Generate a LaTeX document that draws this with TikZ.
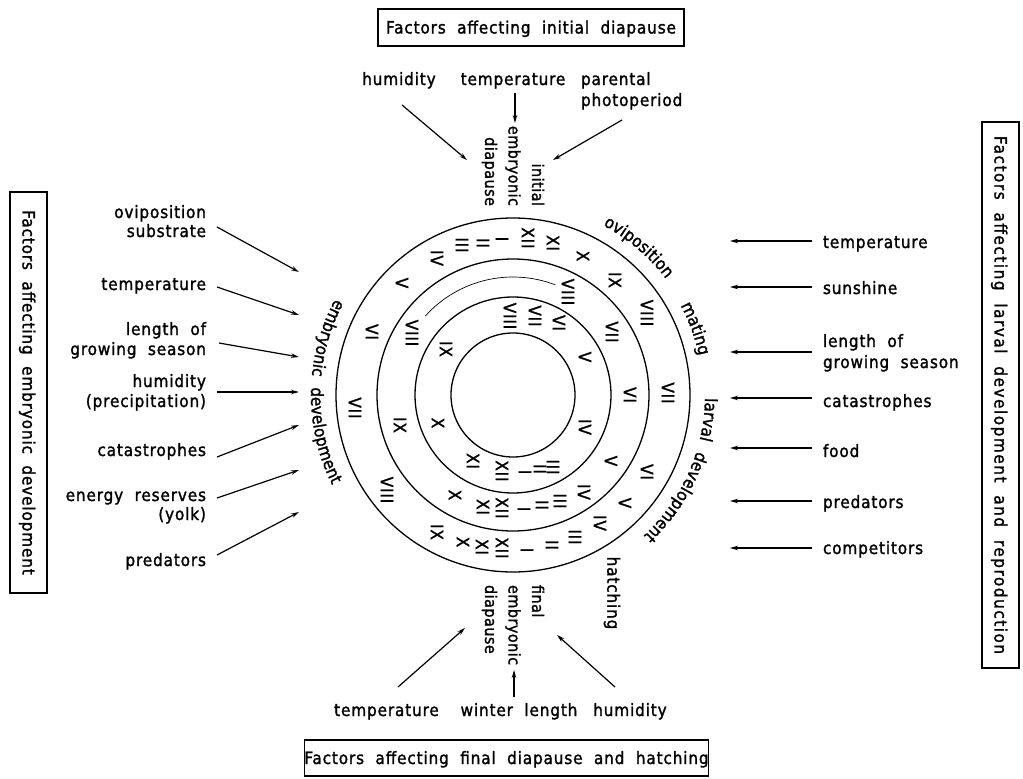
\documentclass[tikz,border=0pt]{standalone}
\usepackage{fontspec}
\newfontfamily\labfont{DejaVu Sans Condensed}[LetterSpace=5,WordSpace=2,FakeBold=1.5]
\newfontfamily\widefont{DejaVu Sans Condensed}[LetterSpace=9,WordSpace=2,FakeBold=1.5]
\newfontfamily\vlabfont{DejaVu Sans Condensed}[LetterSpace=3,FakeBold=1.5]
\usetikzlibrary{arrows.meta,decorations.text}
\newcommand\labsize{\labfont\fontsize{17}{20}\selectfont}

\begin{document}
\begin{tikzpicture}[x=1pt,y=1pt,
  every node/.style={inner sep=0pt,outer sep=0pt},
  lbl/.style={font=\labsize},
  num/.style={font=\labsize,rotate=-90},
  vlbl/.style={font=\vlabfont\fontsize{16}{23.5}\selectfont,rotate=-90},
  frame/.style={draw,line width=1.4pt,font=\labsize,text height=15pt,text depth=3pt},
  arr/.style={line width=1.2pt,-{Stealth[length=8pt,width=4.5pt]}},
  ring/.style={line width=1.3pt},
  curved/.style={decorate,decoration={text along path,text align=center,text={|\labsize|#1}}}
]
\useasboundingbox (0,0) rectangle (1023,-779);

% ---------- framed headings ----------
\node[frame,minimum width=306,minimum height=37] (boxtop) at (531,-27.5) {Factors affecting initial diapause};
\node[frame,minimum width=403,minimum height=36] (boxbot) at (506.5,-758) {Factors affecting final diapause and hatching};
\node[frame,rotate=-90,minimum width=401,minimum height=37] (boxleft) at (28.5,-392.5) {Factors affecting embryonic development};
\node[frame,rotate=-90,minimum width=546,minimum height=37,font=\widefont\fontsize{17}{20}\selectfont] (boxright) at (1000.5,-395) {Factors affecting larval development and reproduction};

% ---------- concentric year rings ----------
\begin{scope}[shift={(513,-395)}]
  \draw[ring] (0,0) circle[radius=62];
  \draw[ring] (0,0) circle[radius=98];
  \draw[ring] (0,0) circle[radius=136];
  \draw[ring] (0,0) circle[radius=177];
  \draw[line width=0.7pt] (69:118) arc[start angle=69,end angle=138,radius=118];
  % stage names round the outer ring
  \path[curved=oviposition] (89.6:192) arc[start angle=89.6,end angle=9.6,radius=192];
  \path[curved=mating] (60:190) arc[start angle=60,end angle=-20,radius=190];
  \path[curved=larval development] (16:192) arc[start angle=16,end angle=-64,radius=192];
  \path[curved=embryonic development] (139:202) arc[start angle=139,end angle=219,radius=202];
\end{scope}

% ---------- months, outer ring ----------
\node[num] (o1) at (462,-245) {III};
\node[num] (o2) at (483,-243) {II};
\node[num] (o3) at (502,-239) {I};
\node[num] (o4) at (528,-238) {XII};
\node[num] (o5) at (553,-243) {XI};
\node[num] (o6) at (583,-256) {X};
\node[num] (o7) at (615,-280) {IX};
\node[num] (o8) at (647,-313) {VIII};
\node[num] (o9) at (668,-393) {VII};
\node[num] (o10) at (647,-472) {VI};
\node[num] (o11) at (625,-503) {V};
\node[num] (o12) at (600,-523) {IV};
\node[num] (o13) at (575,-537) {III};
\node[num] (o14) at (552,-545) {II};
\node[num] (o15) at (527,-550) {I};
\node[num] (o16) at (502,-548) {XII};
\node[num] (o17) at (482,-547) {XI};
\node[num] (o18) at (463,-542) {X};
\node[num] (o19) at (437,-532) {IX};
\node[num] (o20) at (387,-490) {VIII};
\node[num] (o21) at (355,-408) {VII};
\node[num] (o22) at (372,-332) {VI};
\node[num] (o23) at (402,-283) {V};
\node[num] (o24) at (437,-258) {IV};

% ---------- months, second ring ----------
\node[num] (m1) at (412,-333) {VIII};
\node[num] (m2) at (400,-425) {IX};
\node[num] (m3) at (455,-495) {X};
\node[num] (m4) at (483,-507) {XI};
\node[num] (m5) at (502,-508) {XII};
\node[num] (m6) at (524,-509) {I};
\node[num] (m7) at (542,-505) {II};
\node[num] (m8) at (560,-501) {III};
\node[num] (m9) at (584,-492) {IV};
\node[num] (m10) at (611,-461) {V};
\node[num] (m11) at (630,-395) {VI};
\node[num] (m12) at (612,-332) {VII};
\node[num] (m13) at (568,-292) {VIII};

% ---------- months, third ring ----------
\node[num] (i1) at (510,-316) {VIII};
\node[num] (i2) at (535,-316) {VII};
\node[num] (i3) at (559,-323) {VI};
\node[num] (i4) at (585,-357) {V};
\node[num] (i5) at (585,-427) {IV};
\node[num] (i6) at (553,-467) {III};
\node[num] (i7) at (540,-469) {II};
\node[num] (i8) at (525,-472) {I};
\node[num] (i9) at (502,-471) {XII};
\node[num] (i10) at (473,-461) {XI};
\node[num] (i11) at (438,-423) {X};
\node[num] (i12) at (446,-349) {IX};

% ---------- diapause and hatching labels ----------
\node[vlbl,align=right,anchor=east] (initDia) at (513,-206) {initial\\embryonic\\diapause};
\node[vlbl,align=left,anchor=west] (finalDia) at (513,-585) {final\\embryonic\\diapause};
\node[num] (hatch) at (612,-593) {hatching};

% ---------- factors: initial diapause ----------
\node[lbl,anchor=base] (tHum) at (399,-85) {humidity};
\node[lbl,anchor=base] (tTemp) at (513,-85) {temperature};
\node[lbl,anchor=base west] (tPar) at (581,-85) {parental};
\node[lbl,anchor=base west] (tPhoto) at (581,-106) {photoperiod};
\coordinate (tHumS) at (402,-105);  \coordinate (tHumE) at (467,-160);
\coordinate (tTempS) at (515,-93);  \coordinate (tTempE) at (515,-123);
\coordinate (tParS) at (622,-120);  \coordinate (tParE) at (553,-160);
\draw[arr] (tHumS) -- (tHumE);
\draw[arr] (tTempS) -- (tTempE);
\draw[arr] (tParS) -- (tParE);

% ---------- factors: final diapause and hatching ----------
\node[lbl,anchor=base] (bTemp) at (386.5,-716) {temperature};
\node[lbl,anchor=base] (bWin) at (519,-716) {winter length};
\node[lbl,anchor=base] (bHum) at (630,-716) {humidity};
\coordinate (bTempS) at (398,-687); \coordinate (bTempE) at (465,-628);
\coordinate (bWinS) at (514,-697);  \coordinate (bWinE) at (514,-670);
\coordinate (bHumS) at (615,-687);  \coordinate (bHumE) at (557,-635);
\draw[arr] (bTempS) -- (bTempE);
\draw[arr] (bWinS) -- (bWinE);
\draw[arr] (bHumS) -- (bHumE);

% ---------- factors: embryonic development ----------
\node[lbl,anchor=base east] (lOvi) at (206,-218) {oviposition};
\node[lbl,anchor=base east] (lOvi2) at (206,-237) {substrate};
\node[lbl,anchor=base east] (lTemp) at (206,-290) {temperature};
\node[lbl,anchor=base east] (lLen) at (206,-335) {length of};
\node[lbl,anchor=base east] (lLen2) at (206,-355) {growing season};
\node[lbl,anchor=base east] (lHum) at (206,-387) {humidity};
\node[lbl,anchor=base east] (lHum2) at (206,-407) {(precipitation)};
\node[lbl,anchor=base east] (lCat) at (206,-456) {catastrophes};
\node[lbl,anchor=base east] (lEn) at (206,-501) {energy reserves};
\node[lbl,anchor=base east] (lEn2) at (206,-520) {(yolk)};
\node[lbl,anchor=base east] (lPred) at (206,-566) {predators};
\coordinate (lOviS) at (217,-227);  \coordinate (lOviE) at (299,-272);
\coordinate (lTempS) at (217,-287); \coordinate (lTempE) at (299,-315);
\coordinate (lLenS) at (219,-343);  \coordinate (lLenE) at (299,-357);
\coordinate (lHumS) at (217,-392);  \coordinate (lHumE) at (299,-392);
\coordinate (lCatS) at (217,-457);  \coordinate (lCatE) at (299,-425);
\coordinate (lEnS) at (217,-498);   \coordinate (lEnE) at (299,-470);
\coordinate (lPredS) at (217,-555); \coordinate (lPredE) at (299,-512);
\foreach \f in {lOvi,lTemp,lLen,lHum,lCat,lEn,lPred}
  \draw[arr] (\f S) -- (\f E);

% ---------- factors: larval development and reproduction ----------
\node[lbl,anchor=base west] (rTemp) at (823,-248) {temperature};
\node[lbl,anchor=base west] (rSun) at (823,-294) {sunshine};
\node[lbl,anchor=base west] (rLen) at (823,-347) {length of};
\node[lbl,anchor=base west] (rLen2) at (823,-368) {growing season};
\node[lbl,anchor=base west] (rCat) at (823,-407) {catastrophes};
\node[lbl,anchor=base west] (rFood) at (823,-457) {food};
\node[lbl,anchor=base west] (rPred) at (823,-508) {predators};
\node[lbl,anchor=base west] (rComp) at (823,-554) {competitors};
\foreach \f/\y in {rTemp/241,rSun/287,rLen/352,rCat/398,rFood/448,rPred/501,rComp/548}{
  \coordinate (\f S) at (812,-\y);
  \coordinate (\f E) at (730,-\y);
  \draw[arr] (\f S) -- (\f E);
}
\end{tikzpicture}
\end{document}
